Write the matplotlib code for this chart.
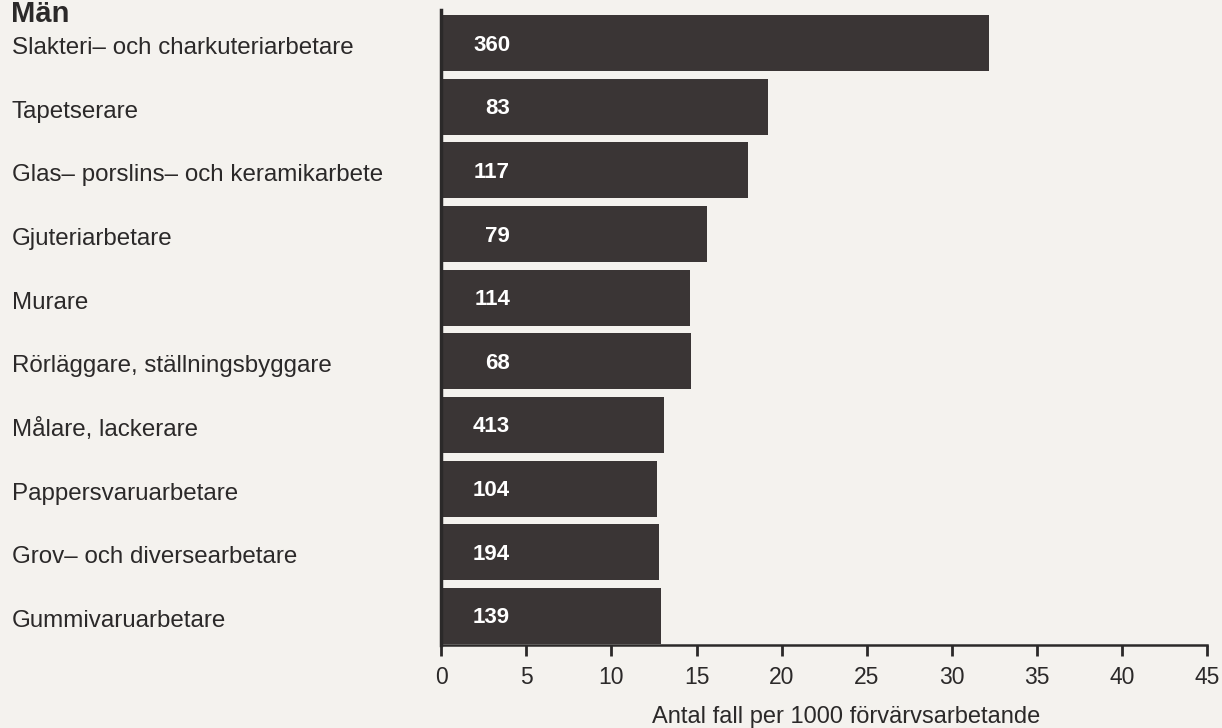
import matplotlib
matplotlib.use("Agg")
import matplotlib.pyplot as plt
import matplotlib.transforms as mtransforms

categories = [
    "Slakteri– och charkuteriarbetare",
    "Tapetserare",
    "Glas– porslins– och keramikarbete",
    "Gjuteriarbetare",
    "Murare",
    "Rörläggare, ställningsbyggare",
    "Målare, lackerare",
    "Pappersvaruarbetare",
    "Grov– och diversearbetare",
    "Gummivaruarbetare",
]
rates = [32.1, 19.1, 17.9, 15.5, 14.5, 14.6, 13.0, 12.6, 12.7, 12.8]
counts = [360, 83, 117, 79, 114, 68, 413, 104, 194, 139]
xticks = [0, 5, 10, 15, 20, 25, 30, 35, 40, 45]

bg = "#f4f2ee"
bar_color = "#3a3535"
text_color = "#2b2929"

plt.rcParams['font.family'] = ['Liberation Sans', 'DejaVu Sans']

fig = plt.figure(figsize=(12.22, 7.28), dpi=100, facecolor=bg)
ax = fig.add_axes([0.361, 0.114, 0.627, 0.872], facecolor=bg)

ypos = list(range(len(categories)))
ax.barh(ypos, rates, height=0.88, color=bar_color, left=0.1)

for y, c in zip(ypos, counts):
    ax.text(4.05, y + 0.03, str(c), ha='right', va='center', color='white',
            fontsize=16, fontweight='bold')

ax.set_xlim(0, 45)
ax.set_ylim(9.46, -0.52)
ax.set_xticks(xticks)
ax.set_xticklabels([str(t) for t in xticks], fontsize=16.5, color=text_color)
ax.set_yticks(ypos)
ax.set_yticklabels(categories, fontsize=17.4, color=text_color, ha='left',
                   va='center')
ax.tick_params(axis='y', length=0, pad=309)
ax.tick_params(axis='x', length=8, width=2, color=text_color, pad=7)

shift = mtransforms.ScaledTranslation(0, -5 / 100, fig.dpi_scale_trans)
for lbl in ax.get_yticklabels():
    lbl.set_transform(lbl.get_transform() + shift)

for s in ['top', 'right']:
    ax.spines[s].set_visible(False)
ax.spines['left'].set_linewidth(2.5)
ax.spines['left'].set_color(text_color)
ax.spines['bottom'].set_linewidth(1.8)
ax.spines['bottom'].set_color(text_color)

ax.set_xlabel("Antal fall per 1000 förvärvsarbetande", fontsize=17,
              color=text_color, x=0.529, labelpad=12)

fig.text(0.009, 1 - 22 / 728, "Män", fontsize=21, fontweight='bold',
         color=text_color, ha='left', va='baseline')

fig.savefig("out.png", dpi=100, facecolor=bg)
